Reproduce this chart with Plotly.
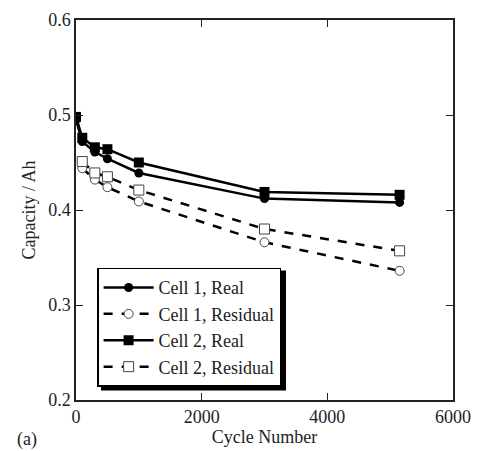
import plotly.graph_objects as go

cycles_real = [0, 100, 300, 500, 1000, 3000, 5150]
cell1_real = [0.495, 0.472, 0.461, 0.454, 0.439, 0.412, 0.408]
cell2_real = [0.498, 0.476, 0.466, 0.464, 0.450, 0.419, 0.416]
cycles_res = [100, 300, 500, 1000, 3000, 5150]
cell1_res = [0.444, 0.432, 0.424, 0.409, 0.366, 0.336]
cell2_res = [0.451, 0.439, 0.435, 0.421, 0.380, 0.357]

names = ["Cell 1, Real", "Cell 1, Residual", "Cell 2, Real", "Cell 2, Residual"]

FONT = "Liberation Serif, Times New Roman, serif"
FS = 18

fig = go.Figure()
fig.add_trace(go.Scatter(x=cycles_real, y=cell1_real, name=names[0], mode="lines+markers",
                         line=dict(color="black", width=2.5),
                         marker=dict(symbol="circle", size=9, color="black")))
fig.add_trace(go.Scatter(x=cycles_res, y=cell1_res, name=names[1], mode="lines+markers",
                         line=dict(color="black", width=2.5, dash="dash"),
                         marker=dict(symbol="circle", size=9, color="white",
                                     line=dict(width=1, color="#444"))))
fig.add_trace(go.Scatter(x=cycles_real, y=cell2_real, name=names[2], mode="lines+markers",
                         line=dict(color="black", width=2.5),
                         marker=dict(symbol="square", size=10, color="black")))
fig.add_trace(go.Scatter(x=cycles_res, y=cell2_res, name=names[3], mode="lines+markers",
                         line=dict(color="black", width=2.5, dash="dash"),
                         marker=dict(symbol="square", size=10, color="white",
                                     line=dict(width=1, color="#444"))))

axis_common = dict(showgrid=False, zeroline=False, showline=True, linecolor="#222", linewidth=1.5,
                   mirror="ticks", ticks="inside", ticklen=7, tickwidth=1.2, tickcolor="#222",
                   automargin=False,
                   tickfont=dict(family=FONT, size=FS, color="#222"))

fig.update_layout(
    width=479, height=451,
    margin=dict(l=76, r=26, t=20, b=51, autoexpand=False),
    paper_bgcolor="white", plot_bgcolor="white",
    font=dict(family=FONT, size=FS, color="#222"),
    xaxis=dict(range=[0, 6000], tickvals=[0, 2000, 4000, 6000],
               title=dict(text="Cycle Number", font=dict(family=FONT, size=FS), standoff=0),
               **axis_common),
    yaxis=dict(range=[0.2, 0.6], tickvals=[0.2, 0.3, 0.4, 0.5, 0.6], tickformat=".1f",
               title=dict(text="Capacity / Ah", font=dict(family=FONT, size=FS), standoff=8),
               **axis_common),
    legend=dict(x=0.056, y=0.348, xanchor="left", yanchor="top",
                bgcolor="white", bordercolor="black", borderwidth=1.5,
                font=dict(family=FONT, size=FS, color="#222"),
                itemwidth=50, tracegroupgap=0),
    showlegend=True,
)

fig.add_shape(type="rect", xref="paper", yref="paper",
              x0=0.0663, x1=0.557, y0=0.025, y1=0.3408,
              fillcolor="black", line=dict(width=0), layer="above")

fig.add_annotation(text="(a)", xref="paper", yref="paper", x=-0.162, y=-0.105,
                   xanchor="left", yanchor="middle", showarrow=False,
                   font=dict(family=FONT, size=FS, color="#222"))

fig.write_html("out.html", config={"displayModeBar": False},
               post_script="document.body.style.margin='0';document.body.style.overflow='hidden';")
